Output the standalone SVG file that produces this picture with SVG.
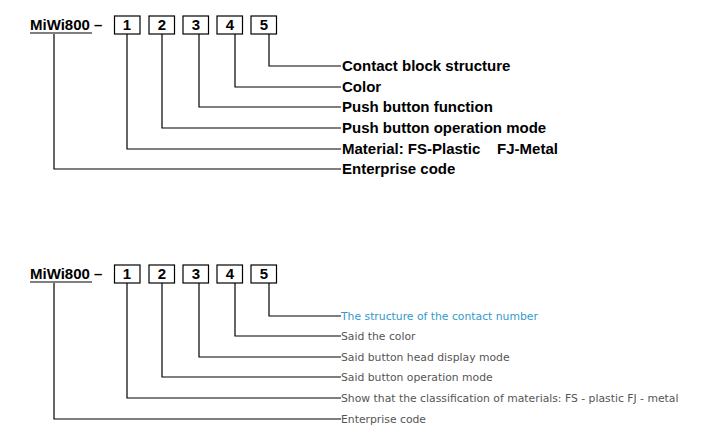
<svg xmlns="http://www.w3.org/2000/svg" width="708" height="440" viewBox="0 0 708 440">
<style>
.b{fill:#fff;stroke:#000;stroke-width:1.2}
.n{font:bold 15px "Liberation Sans",Arial,sans-serif;text-anchor:middle}
.t{font:bold 15px "Liberation Sans",Arial,sans-serif}
.s{font:10.8px "DejaVu Sans",Tahoma,sans-serif;fill:#555}
.c path{fill:none;stroke:#000;stroke-width:1.2}
</style>
<rect width="708" height="440" fill="#fff"/>
<g id="top">
<text class="t" x="30" y="30">MiWi800 –</text>
<line x1="30" y1="33" x2="92" y2="33" stroke="#000" stroke-width="1.2"/>
<g id="t1"><rect class="b" x="114.5" y="16" width="25.5" height="18"/><text class="n" x="127" y="30">1</text></g>
<g id="t2"><rect class="b" x="149" y="16" width="25.5" height="18"/><text class="n" x="162" y="30">2</text></g>
<g id="t3"><rect class="b" x="183" y="16" width="25.5" height="18"/><text class="n" x="196" y="30">3</text></g>
<g id="t4"><rect class="b" x="217" y="16" width="25.5" height="18"/><text class="n" x="230" y="30">4</text></g>
<g id="t5"><rect class="b" x="251" y="16" width="25.5" height="18"/><text class="n" x="264" y="30">5</text></g>
<g class="c">
<path d="M269 34V66H341"/><path d="M235 34V87H341"/><path d="M199 34V107H341"/><path d="M162 34V128H341"/><path d="M127 34V149H341"/><path d="M54 34V169H341"/>
</g>
<text class="t" x="342" y="71">Contact block structure</text>
<text class="t" x="342" y="92">Color</text>
<text class="t" x="342" y="112">Push button function</text>
<text class="t" x="342" y="133">Push button operation mode</text>
<text class="t" x="342" y="154" xml:space="preserve">Material: FS-Plastic    FJ-Metal</text>
<text class="t" x="342" y="174">Enterprise code</text>
</g>
<g id="bottom">
<text class="t" x="30" y="279">MiWi800 –</text>
<line x1="30" y1="282" x2="92" y2="282" stroke="#000" stroke-width="1.2"/>
<g id="b1"><rect class="b" x="114.5" y="265" width="25.5" height="18"/><text class="n" x="127" y="279">1</text></g>
<g id="b2"><rect class="b" x="149" y="265" width="25.5" height="18"/><text class="n" x="162" y="279">2</text></g>
<g id="b3"><rect class="b" x="183" y="265" width="25.5" height="18"/><text class="n" x="196" y="279">3</text></g>
<g id="b4"><rect class="b" x="217" y="265" width="25.5" height="18"/><text class="n" x="230" y="279">4</text></g>
<g id="b5"><rect class="b" x="251" y="265" width="25.5" height="18"/><text class="n" x="264" y="279">5</text></g>
<g class="c">
<path d="M269 283V316H341"/><path d="M235 283V336H341"/><path d="M199 283V357H341"/><path d="M162 283V377H341"/><path d="M127 283V398H341"/><path d="M54 283V419H341"/>
</g>
<text class="s" x="341" y="320" style="fill:#3399cc">The structure of the contact number</text>
<text class="s" x="341" y="340">Said the color</text>
<text class="s" x="341" y="361">Said button head display mode</text>
<text class="s" x="341" y="381">Said button operation mode</text>
<text class="s" x="341" y="402">Show that the classification of materials: FS - plastic FJ - metal</text>
<text class="s" x="341" y="423">Enterprise code</text>
</g>
</svg>
